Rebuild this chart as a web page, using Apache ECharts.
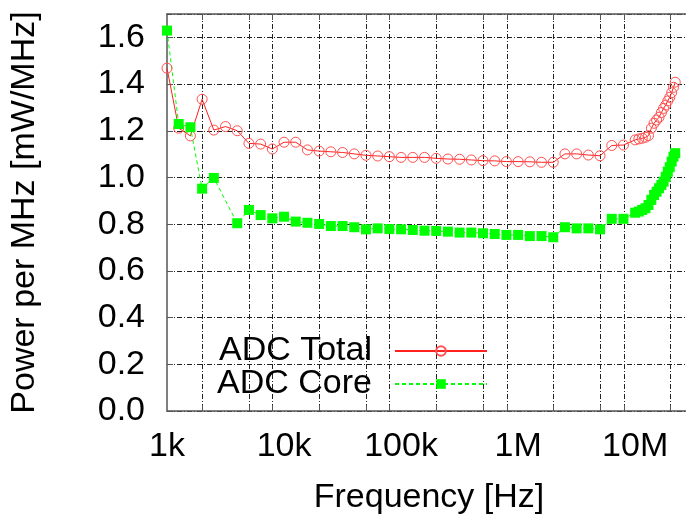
<!DOCTYPE html>
<html>
<head>
<meta charset="utf-8">
<script src="https://cdn.jsdelivr.net/npm/echarts@6/dist/echarts.min.js"></script>
<style>html,body{margin:0;padding:0;background:#fff;}#c{width:686px;height:515px;}</style>
</head>
<body>
<div id="c"></div>
<script>
const freqs = [
  1000, 1259, 1585, 1995, 2512, 3162, 3981, 5012, 6310, 7943,
  10000, 12589, 15849, 19953, 25119, 31623, 39811, 50119, 63096, 79433,
  100000, 125893, 158489, 199526, 251189, 316228, 398107, 501187, 630957, 794328,
  1000000, 1258925, 1584893, 1995262, 2511886, 3162278, 3981072, 5011872, 6309573, 7943282,
  10000000, 10750000, 11500000, 12250000, 13000000, 13750000, 14500000, 15250000, 16000000,
  16750000, 17500000, 18250000, 19000000, 19750000, 20500000, 21250000, 22000000
];
const adcTotal = [
  1.468, 1.211, 1.178, 1.335, 1.203, 1.218, 1.200, 1.146, 1.143, 1.122,
  1.151, 1.151, 1.118, 1.113, 1.110, 1.107, 1.101, 1.095, 1.092, 1.089,
  1.086, 1.086, 1.086, 1.082, 1.079, 1.078, 1.075, 1.072, 1.071, 1.068,
  1.068, 1.067, 1.065, 1.065, 1.101, 1.101, 1.096, 1.093, 1.137, 1.139,
  1.161, 1.165, 1.168, 1.172, 1.179, 1.211, 1.232, 1.246, 1.258, 1.278,
  1.296, 1.310, 1.328, 1.343, 1.363, 1.386, 1.408
];
const adcCore = [
  1.629, 1.229, 1.215, 0.952, 0.998, null, 0.804, 0.861, 0.839, 0.825,
  0.832, 0.811, 0.806, 0.801, 0.792, 0.792, 0.787, 0.778, 0.782, 0.779,
  0.778, 0.775, 0.772, 0.771, 0.768, 0.764, 0.764, 0.761, 0.758, 0.754,
  0.754, 0.749, 0.749, 0.744, 0.787, 0.782, 0.782, 0.778, 0.823, 0.823,
  0.849, 0.854, 0.861, 0.868, 0.882, 0.904, 0.925, 0.939, 0.954, 0.968,
  0.982, 1.003, 1.025, 1.044, 1.068, 1.089, 1.104
];
const seriesNames = ['ADC Total', 'ADC Core'];
const xTickValues = [1000, 10000, 100000, 1000000, 10000000];
const xTickLabels = ['1k', '10k', '100k', '1M', '10M'];
const xMinorTicks = [2000, 5000, 8000, 20000, 50000, 80000, 200000, 500000, 800000,
  2000000, 5000000, 8000000, 20000000];
const xTitle = 'Frequency [Hz]';
const yTitle = 'Power per MHz [mW/MHz]';

function pairs(xs, ys) {
  const out = [];
  for (let i = 0; i < xs.length; i++) if (ys[i] !== null) out.push([xs[i], ys[i]]);
  return out;
}

const FONT = 'Liberation Sans, Arial, sans-serif';
const FS = 34;
const axisCol = '#555';
const gridStyle = { color: '#222', width: 1, type: [5, 2, 1, 2] };

const chart = echarts.init(document.getElementById('c'), null, { renderer: 'canvas' });
chart.setOption({
  animation: false,
  backgroundColor: '#fff',
  grid: { left: 167, top: 14, bottom: 104, right: -5, containLabel: false, outerBoundsMode: 'none' },
  legend: {
    orient: 'vertical',
    right: 198, top: 334,
    padding: 0,
    align: 'right',
    itemWidth: 92, itemHeight: 12, itemGap: -1,
    selectedMode: false,
    textStyle: { fontFamily: FONT, fontSize: FS, color: '#000', lineHeight: 30, padding: [0, 18, 0, 0] },
    data: seriesNames
  },
  xAxis: [{
    type: 'log', logBase: 10, min: 1000, max: 30000000,
    position: 'bottom',
    name: xTitle, nameLocation: 'middle', nameGap: 70,
    nameTextStyle: { fontFamily: FONT, fontSize: FS, color: '#000' },
    axisLine: { show: true, lineStyle: { color: axisCol, width: 1.5 } },
    axisTick: { show: true, inside: true, length: 6, customValues: xMinorTicks, lineStyle: { color: axisCol, width: 1 } },
    axisLabel: {
      customValues: xTickValues,
      margin: 19,
      fontFamily: FONT, fontSize: FS, color: '#000',
      formatter: function (v) { const i = xTickValues.indexOf(v); return i >= 0 ? xTickLabels[i] : ''; }
    },
    splitLine: { show: true, lineStyle: gridStyle }
  }, {
    type: 'log', logBase: 10, min: 1000, max: 30000000,
    position: 'top',
    axisLine: { show: true, lineStyle: { color: axisCol, width: 1.5 } },
    axisTick: { show: true, inside: true, length: 6, customValues: xMinorTicks, lineStyle: { color: axisCol, width: 1 } },
    axisLabel: { show: false },
    splitLine: { show: false }
  }],
  yAxis: {
    type: 'value', min: 0, max: 1.7, interval: 0.2,
    name: yTitle, nameLocation: 'middle', nameGap: 125,
    nameTextStyle: { fontFamily: FONT, fontSize: FS, color: '#000' },
    axisLine: { show: true, lineStyle: { color: axisCol, width: 1.5 } },
    axisTick: { show: true, inside: true, length: 6, lineStyle: { color: axisCol } },
    axisLabel: {
      margin: 22, showMaxLabel: false,
      fontFamily: FONT, fontSize: FS, color: '#000',
      formatter: function (v) { return v.toFixed(1); }
    },
    splitLine: { show: true, lineStyle: gridStyle }
  },
  series: [{
    name: seriesNames[0], type: 'line', xAxisIndex: 0,
    data: pairs(freqs, adcTotal),
    symbol: 'circle', symbolSize: 10,
    lineStyle: { color: '#ff2020', width: 1 },
    itemStyle: { color: 'rgba(0,0,0,0)', borderColor: '#ff5050', borderWidth: 1 },
    emphasis: { disabled: true }
  }, {
    name: seriesNames[1], type: 'line', xAxisIndex: 0,
    data: pairs(freqs, adcCore),
    symbol: 'rect', symbolSize: 10,
    lineStyle: { color: '#00ff00', width: 1, type: [4, 3] },
    itemStyle: { color: '#00ff00' },
    emphasis: { disabled: true }
  }]
});
</script>
</body>
</html>
